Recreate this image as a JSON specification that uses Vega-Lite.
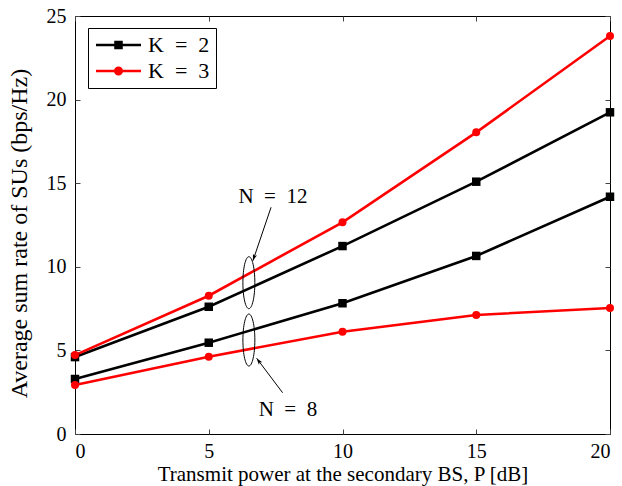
{
  "$schema": "https://vega.github.io/schema/vega-lite/v6.json",
  "width": 535,
  "height": 418,
  "autosize": "none",
  "padding": {"left": 75, "top": 16, "right": 12, "bottom": 52},
  "background": "white",
  "config": {
    "font": "Liberation Serif",
    "view": {"stroke": "black", "strokeWidth": 1},
    "axis": {
      "domain": false,
      "grid": true,
      "gridColor": "#b8b8b8",
      "gridDash": [1, 3],
      "gridWidth": 1,
      "tickColor": "#444",
      "tickSize": -5,
      "labelFont": "Liberation Serif",
      "labelFontSize": 20,
      "labelColor": "black",
      "titleFont": "Liberation Serif",
      "titleFontSize": 21,
      "titleFontWeight": "normal",
      "titleColor": "black"
    }
  },
  "datasets": {
    "curves": [
      {"P": 0, "rate": 4.6, "K": "K = 2", "N": "12"},
      {"P": 5, "rate": 7.61, "K": "K = 2", "N": "12"},
      {"P": 10, "rate": 11.24, "K": "K = 2", "N": "12"},
      {"P": 15, "rate": 15.09, "K": "K = 2", "N": "12"},
      {"P": 20, "rate": 19.24, "K": "K = 2", "N": "12"},
      {"P": 0, "rate": 4.72, "K": "K = 3", "N": "12"},
      {"P": 5, "rate": 8.27, "K": "K = 3", "N": "12"},
      {"P": 10, "rate": 12.66, "K": "K = 3", "N": "12"},
      {"P": 15, "rate": 18.04, "K": "K = 3", "N": "12"},
      {"P": 20, "rate": 23.8, "K": "K = 3", "N": "12"},
      {"P": 0, "rate": 3.29, "K": "K = 2", "N": "8"},
      {"P": 5, "rate": 5.46, "K": "K = 2", "N": "8"},
      {"P": 10, "rate": 7.82, "K": "K = 2", "N": "8"},
      {"P": 15, "rate": 10.65, "K": "K = 2", "N": "8"},
      {"P": 20, "rate": 14.19, "K": "K = 2", "N": "8"},
      {"P": 0, "rate": 2.93, "K": "K = 3", "N": "8"},
      {"P": 5, "rate": 4.62, "K": "K = 3", "N": "8"},
      {"P": 10, "rate": 6.12, "K": "K = 3", "N": "8"},
      {"P": 15, "rate": 7.12, "K": "K = 3", "N": "8"},
      {"P": 20, "rate": 7.54, "K": "K = 3", "N": "8"}
    ],
    "notes": [
      {"label": "N\u2002=\u200212", "ex": 6.5, "ey": 9.05, "tx": 7.4, "ty": 14.19, "ax": 7.33, "ay": 13.56, "bx": 6.65, "by": 10.36},
      {"label": "N\u2002=\u20028", "ex": 6.5, "ey": 5.62, "tx": 7.96, "ty": 1.44, "ax": 7.76, "ay": 2.47, "bx": 6.79, "by": 4.53}
    ]
  },
  "layer": [
    {
      "data": {"name": "curves"},
      "mark": {"type": "point", "opacity": 0},
      "encoding": {
        "x": {"field": "P", "type": "quantitative", "scale": {"domain": [0, 20], "nice": false},
              "axis": {"orient": "top", "labels": false, "grid": false, "title": null, "values": [0, 5, 10, 15, 20]}},
        "y": {"field": "rate", "type": "quantitative", "scale": {"domain": [0, 25], "nice": false},
              "axis": {"orient": "right", "labels": false, "grid": false, "title": null, "values": [0, 5, 10, 15, 20, 25]}}
      }
    },
    {
      "data": {"name": "curves"},
      "mark": {"type": "point", "filled": true, "opacity": 0, "size": 1},
      "encoding": {
        "x": {"field": "P", "type": "quantitative", "axis": null},
        "y": {"field": "rate", "type": "quantitative", "axis": null},
        "color": {"field": "K", "type": "nominal", "scale": {"domain": ["K = 2", "K = 3"], "range": ["black", "#ff0000"]},
          "legend": {
            "title": null,
            "orient": "none",
            "legendX": 13,
            "legendY": 12,
            "strokeColor": "black",
            "fillColor": "white",
            "padding": 6,
            "rowPadding": 4,
            "labelFont": "Liberation Serif",
            "labelFontSize": 22,
            "labelColor": "black",
            "labelOffset": 32,
            "symbolSize": 324,
            "symbolOpacity": 1,
            "symbolStrokeWidth": 2.6,
            "labelExpr": "replace(datum.label, / /g, '\u2002')",
            "encode": {
              "symbols": {
                "update": {
                  "fill": {"signal": "datum.value === 'K = 2' ? 'black' : '#ff0000'"},
                  "stroke": {"signal": "datum.value === 'K = 2' ? 'black' : '#ff0000'"},
                  "strokeWidth": {"value": 2.6},
                  "opacity": {"value": 1}
                }
              }
            }
          }
        },
        "shape": {"field": "K", "type": "nominal",
          "scale": {"domain": ["K = 2", "K = 3"], "range": ["M-1,0H4M1.17,-0.33H1.83V0.33H1.17Z", "M-1,0H4M1.86,0A0.36,0.36 0 1,1 1.14,0A0.36,0.36 0 1,1 1.86,0Z"]}}
      }
    },
    {
      "data": {"name": "curves"},
      "mark": {"type": "line", "strokeWidth": 2.6},
      "encoding": {
        "x": {"field": "P", "type": "quantitative",
              "axis": {"orient": "bottom", "title": "Transmit power at the secondary BS, P [dB]", "values": [0, 5, 10, 15, 20], "labelPadding": 12, "titlePadding": 2}},
        "y": {"field": "rate", "type": "quantitative",
              "axis": {"orient": "left", "title": "Average sum rate of SUs (bps/Hz)", "titleFontSize": 24, "titleY": 217, "values": [0, 5, 10, 15, 20, 25], "labelPadding": 14, "titlePadding": 15}},
        "color": {"field": "K", "type": "nominal"},
        "detail": {"field": "N"}
      }
    },
    {
      "data": {"name": "curves"},
      "transform": [{"filter": "datum.K === 'K = 2'"}],
      "mark": {"type": "point", "shape": "square", "filled": true, "opacity": 1, "size": 72},
      "encoding": {
        "x": {"field": "P", "type": "quantitative", "axis": null},
        "y": {"field": "rate", "type": "quantitative", "axis": null},
        "color": {"field": "K", "type": "nominal"}
      }
    },
    {
      "data": {"name": "curves"},
      "transform": [{"filter": "datum.K === 'K = 3'"}],
      "mark": {"type": "point", "shape": "circle", "filled": true, "opacity": 1, "size": 64},
      "encoding": {
        "x": {"field": "P", "type": "quantitative", "axis": null},
        "y": {"field": "rate", "type": "quantitative", "axis": null},
        "color": {"field": "K", "type": "nominal"}
      }
    },
    {
      "data": {"name": "notes"},
      "mark": {"type": "point", "shape": "M0,-1A0.23,1 0 1,1 0,1A0.23,1 0 1,1 0,-1Z", "size": 2704, "filled": false, "stroke": "black", "strokeWidth": 1, "opacity": 1},
      "encoding": {
        "x": {"field": "ex", "type": "quantitative", "axis": null},
        "y": {"field": "ey", "type": "quantitative", "axis": null}
      }
    },
    {
      "data": {"name": "notes"},
      "mark": {"type": "rule", "color": "black", "strokeWidth": 1},
      "encoding": {
        "x": {"field": "ax", "type": "quantitative", "axis": null},
        "y": {"field": "ay", "type": "quantitative", "axis": null},
        "x2": {"field": "bx"},
        "y2": {"field": "by"}
      }
    },
    {
      "data": {"name": "notes"},
      "transform": [{"filter": "datum.ey > 8"}],
      "mark": {"type": "point", "shape": "M0,0L0.55,1.7L0,1.3L-0.55,1.7Z", "size": 60, "filled": true, "color": "black", "opacity": 1, "angle": 198.6},
      "encoding": {
        "x": {"field": "bx", "type": "quantitative", "axis": null},
        "y": {"field": "by", "type": "quantitative", "axis": null}
      }
    },
    {
      "data": {"name": "notes"},
      "transform": [{"filter": "datum.ey < 8"}],
      "mark": {"type": "point", "shape": "M0,0L0.55,1.7L0,1.3L-0.55,1.7Z", "size": 60, "filled": true, "color": "black", "opacity": 1, "angle": 323},
      "encoding": {
        "x": {"field": "bx", "type": "quantitative", "axis": null},
        "y": {"field": "by", "type": "quantitative", "axis": null}
      }
    },
    {
      "data": {"name": "notes"},
      "mark": {"type": "text", "font": "Liberation Serif", "fontSize": 21, "color": "black", "align": "center", "baseline": "middle"},
      "encoding": {
        "x": {"field": "tx", "type": "quantitative", "axis": null},
        "y": {"field": "ty", "type": "quantitative", "axis": null},
        "text": {"field": "label"}
      }
    }
  ],
  "resolve": {"axis": {"x": "independent", "y": "independent"}}
}
